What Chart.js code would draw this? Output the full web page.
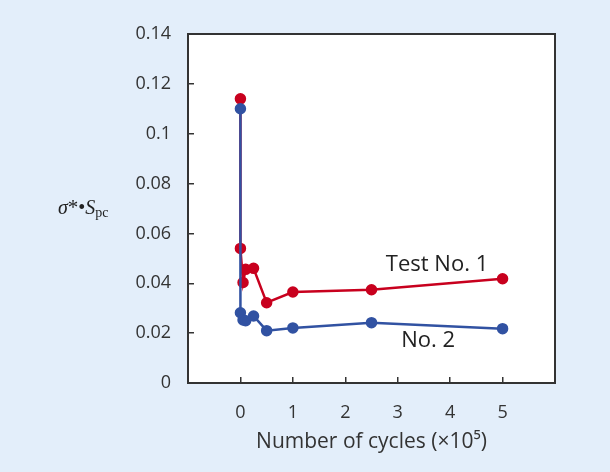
<!DOCTYPE html>
<html>
<head>
<meta charset="utf-8">
<script src="https://cdn.jsdelivr.net/npm/chart.js@4.4.1/dist/chart.umd.min.js"></script>
<style>
  html, body { margin: 0; padding: 0; background: #E3EEFA; }
  #wrap { width: 610px; height: 472px; }
</style>
</head>
<body>
<div id="wrap"><canvas id="myChart"></canvas></div>
<script>
// cycles (x10^5) and sigma*Spc for the two tests
const cycles1 = [0, 0, 0.05, 0.1, 0.25, 0.5, 1, 2.5, 5];
const test1 = [0.114, 0.054, 0.0403, 0.0456, 0.046, 0.0322, 0.0365, 0.0374, 0.0418];
const cycles2 = [0, 0, 0.05, 0.1, 0.25, 0.5, 1, 2.5, 5];
const test2 = [0.110, 0.0282, 0.0253, 0.025, 0.0269, 0.021, 0.0221, 0.0242, 0.0218];

const xTickLabels = ['0', '1', '2', '3', '4', '5'];
const yTickLabels = ['0', '0.02', '0.04', '0.06', '0.08', '0.1', '0.12', '0.14'];

const RED = '#C8001E';
const BLUE = '#3152A2';
const TEXT = '#333333';
const SANS = '"Open Sans", "Noto Sans", sans-serif';

function toPoints(xs, ys) {
  return xs.map((x, i) => ({ x: x, y: ys[i] }));
}

// background, white plot box and its frame
const framePlugin = {
  id: 'frame',
  beforeDraw(chart) {
    const { ctx, chartArea: a } = chart;
    ctx.save();
    ctx.fillStyle = '#E3EEFA';
    ctx.fillRect(0, 0, chart.width, chart.height);
    ctx.fillStyle = '#ffffff';
    ctx.fillRect(a.left, a.top, a.right - a.left, a.bottom - a.top);
    ctx.restore();
  },
  beforeDatasetsDraw(chart) {
    const { ctx, chartArea: a } = chart;
    ctx.save();
    ctx.strokeStyle = '#333333';
    ctx.lineWidth = 2;
    ctx.strokeRect(a.left, a.top, a.right - a.left, a.bottom - a.top);
    ctx.restore();
  }
};

// text labels: series names and the y quantity
const labelPlugin = {
  id: 'labels',
  afterDatasetsDraw(chart) {
    const { ctx, scales } = chart;
    const x = scales.x, y = scales.y;
    ctx.save();
    ctx.fillStyle = '#222222';
    ctx.font = '22px ' + SANS;
    ctx.textAlign = 'center';
    ctx.textBaseline = 'middle';
    ctx.fillText('Test No. 1', x.getPixelForValue(3.75), y.getPixelForValue(0.0475));
    ctx.fillText('No. 2', x.getPixelForValue(3.58), y.getPixelForValue(0.0171));

    // sigma*.Spc
    const midY = (y.top + y.bottom) / 2 + 5;
    let px = 58;
    ctx.textAlign = 'left';
    ctx.textBaseline = 'alphabetic';
    const parts = [
      ['italic 20px "Liberation Serif", serif', 'σ', 0],
      ['21px "Liberation Serif", serif', '*', 0],
      ['20px "Liberation Serif", serif', '•', 0],
      ['italic 20px "Liberation Serif", serif', 'S', 0],
      ['14px "Liberation Serif", serif', 'pc', 3]
    ];
    parts.forEach(p => {
      ctx.font = p[0];
      ctx.fillText(p[1], px, midY + p[2]);
      px += ctx.measureText(p[1]).width;
    });
    ctx.restore();
  }
};

const data = {
  datasets: [{
    label: 'Test No. 1',
    data: toPoints(cycles1, test1),
    borderColor: RED,
    backgroundColor: RED,
    borderWidth: 2.5,
    pointRadius: 4.5,
    pointHoverRadius: 4.5,
    showLine: true,
    order: 2
  }, {
    label: 'No. 2',
    data: toPoints(cycles2, test2),
    borderColor: BLUE,
    backgroundColor: BLUE,
    borderWidth: 2.5,
    pointRadius: 4.5,
    pointHoverRadius: 4.5,
    showLine: true,
    order: 1
  }]
};

const config = {
  type: 'scatter',
  data,
  options: {
    responsive: true,
    maintainAspectRatio: false,
    animation: false,
    layout: { padding: { top: 34, right: 55, left: 0, bottom: 0 } },
    plugins: {
      legend: { display: false },
      tooltip: { enabled: false }
    },
    scales: {
      x: {
        type: 'linear',
        min: -1,
        max: 6,
        border: { display: false },
        grid: {
          drawOnChartArea: false,
          drawTicks: true,
          tickLength: -6,
          color: '#333333',
          lineWidth: 1.5
        },
        ticks: {
          stepSize: 1,
          padding: 25,
          color: TEXT,
          font: { family: SANS, size: 18 },
          callback: function (v) {
            const i = xTickLabels.indexOf(String(v));
            return i >= 0 ? xTickLabels[i] : '';
          }
        },
        title: {
          display: true,
          text: 'Number of cycles (×10⁵)',
          color: TEXT,
          font: { family: SANS, size: 21 },
          padding: { top: 0, bottom: 17 }
        },
        afterFit: function (s) { s.height = 89; }
      },
      y: {
        type: 'linear',
        min: 0,
        max: 0.14,
        border: { display: false },
        grid: {
          drawOnChartArea: false,
          drawTicks: true,
          tickLength: -6,
          color: '#333333',
          lineWidth: 1.5
        },
        ticks: {
          stepSize: 0.02,
          padding: 23,
          color: TEXT,
          font: { family: SANS, size: 18 },
          callback: function (v, i) { return yTickLabels[i]; }
        },
        afterFit: function (s) { s.width = 188; }
      }
    }
  },
  plugins: [framePlugin, labelPlugin]
};

const myChart = new Chart(document.getElementById('myChart'), config);
</script>
</body>
</html>
